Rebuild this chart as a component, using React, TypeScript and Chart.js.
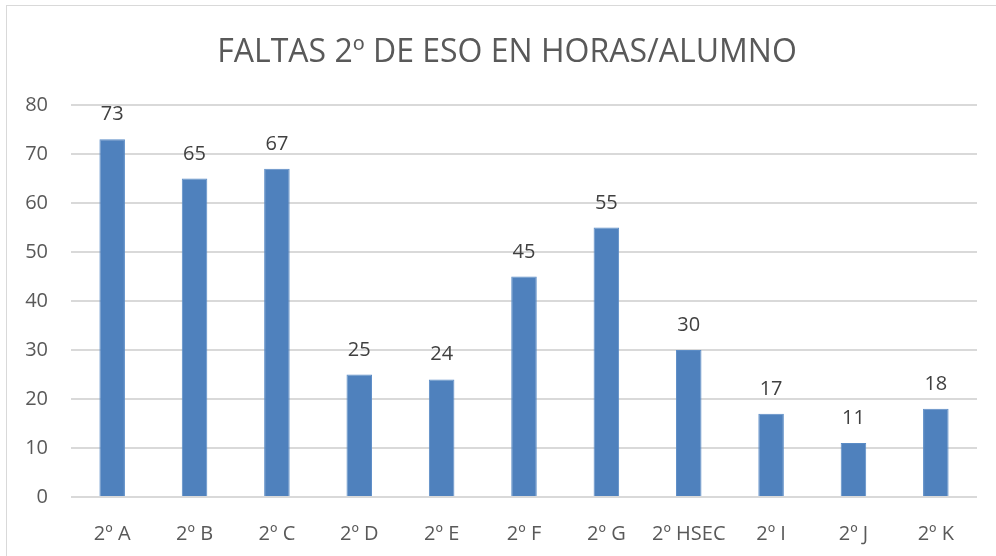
import React, { useEffect, useRef } from "react";
import { Chart, registerables } from "chart.js";

Chart.register(...registerables);

const TITLE = "FALTAS 2º DE ESO EN HORAS/ALUMNO";
const categories = ["2º A", "2º B", "2º C", "2º D", "2º E", "2º F", "2º G", "2º HSEC", "2º I", "2º J", "2º K"];
const values = [73, 65, 67, 25, 24, 45, 55, 30, 17, 11, 18];
const yTicks = [0, 10, 20, 30, 40, 50, 60, 70, 80];

const FONT = "'Open Sans', 'Noto Sans', sans-serif";

const labelPlugin = {
  id: "labels",
  afterDatasetsDraw(chart: any) {
    const ctx = chart.ctx;
    const meta = chart.getDatasetMeta(0);
    ctx.save();
    ctx.fillStyle = "#404040";
    ctx.font = `20px ${FONT}`;
    ctx.textAlign = "center";
    ctx.textBaseline = "alphabetic";
    meta.data.forEach((el: any, i: number) => {
      ctx.fillText(String(values[i]), el.x, el.y - 19);
    });
    ctx.restore();
  },
};

const titlePlugin = {
  id: "customTitle",
  afterDraw(chart: any) {
    const ctx = chart.ctx;
    ctx.save();
    ctx.fillStyle = "#595959";
    ctx.font = `32px ${FONT}`;
    ctx.textAlign = "center";
    ctx.textBaseline = "alphabetic";
    ctx.fillText(TITLE, 507, 62);
    ctx.restore();
  },
};

export default function App() {
  const ref = useRef<HTMLCanvasElement>(null);
  useEffect(() => {
    if (!ref.current) return;
    const chart = new Chart(ref.current, {
      type: "bar",
      data: {
        labels: categories,
        datasets: [
          {
            data: values,
            backgroundColor: "#4F81BD",
            borderColor: "#5b8cc6",
            borderWidth: 1,
            barPercentage: 0.31,
            categoryPercentage: 1,
          },
        ],
      },
      options: {
        animation: false,
        responsive: false,
        maintainAspectRatio: false,
        layout: { padding: { top: 105, right: 19, left: 0, bottom: 0 } },
        plugins: { legend: { display: false }, title: { display: false }, tooltip: { enabled: false } },
        scales: {
          x: {
            grid: { display: false },
            border: { display: false },
            ticks: { color: "#595959", font: { family: FONT, size: 20 }, padding: 17, maxRotation: 0, autoSkip: false },
            afterFit(scale: any) {
              scale.height = 59;
            },
          },
          y: {
            min: 0,
            max: 80,
            afterBuildTicks(scale: any) {
              scale.ticks = yTicks.map((v) => ({ value: v }));
            },
            grid: { color: "#d9d9d9", lineWidth: 2, drawTicks: false },
            border: { display: false },
            ticks: { color: "#595959", font: { family: FONT, size: 20 }, padding: 23 },
            afterFit(scale: any) {
              scale.width = 71;
            },
          },
        },
      },
      plugins: [labelPlugin, titlePlugin],
    });
    return () => chart.destroy();
  }, []);
  return (
    <div style={{ position: "fixed", left: 0, top: 0, width: 996, height: 556, background: "#fff", overflow: "hidden" }}>
      <div style={{ position: "absolute", left: 6, top: 5, width: 1100, height: 700, border: "1px solid #d9d9d9" }} />
      <canvas ref={ref} width={996} height={556} style={{ position: "absolute", left: 0, top: 0 }} />
    </div>
  );
}
